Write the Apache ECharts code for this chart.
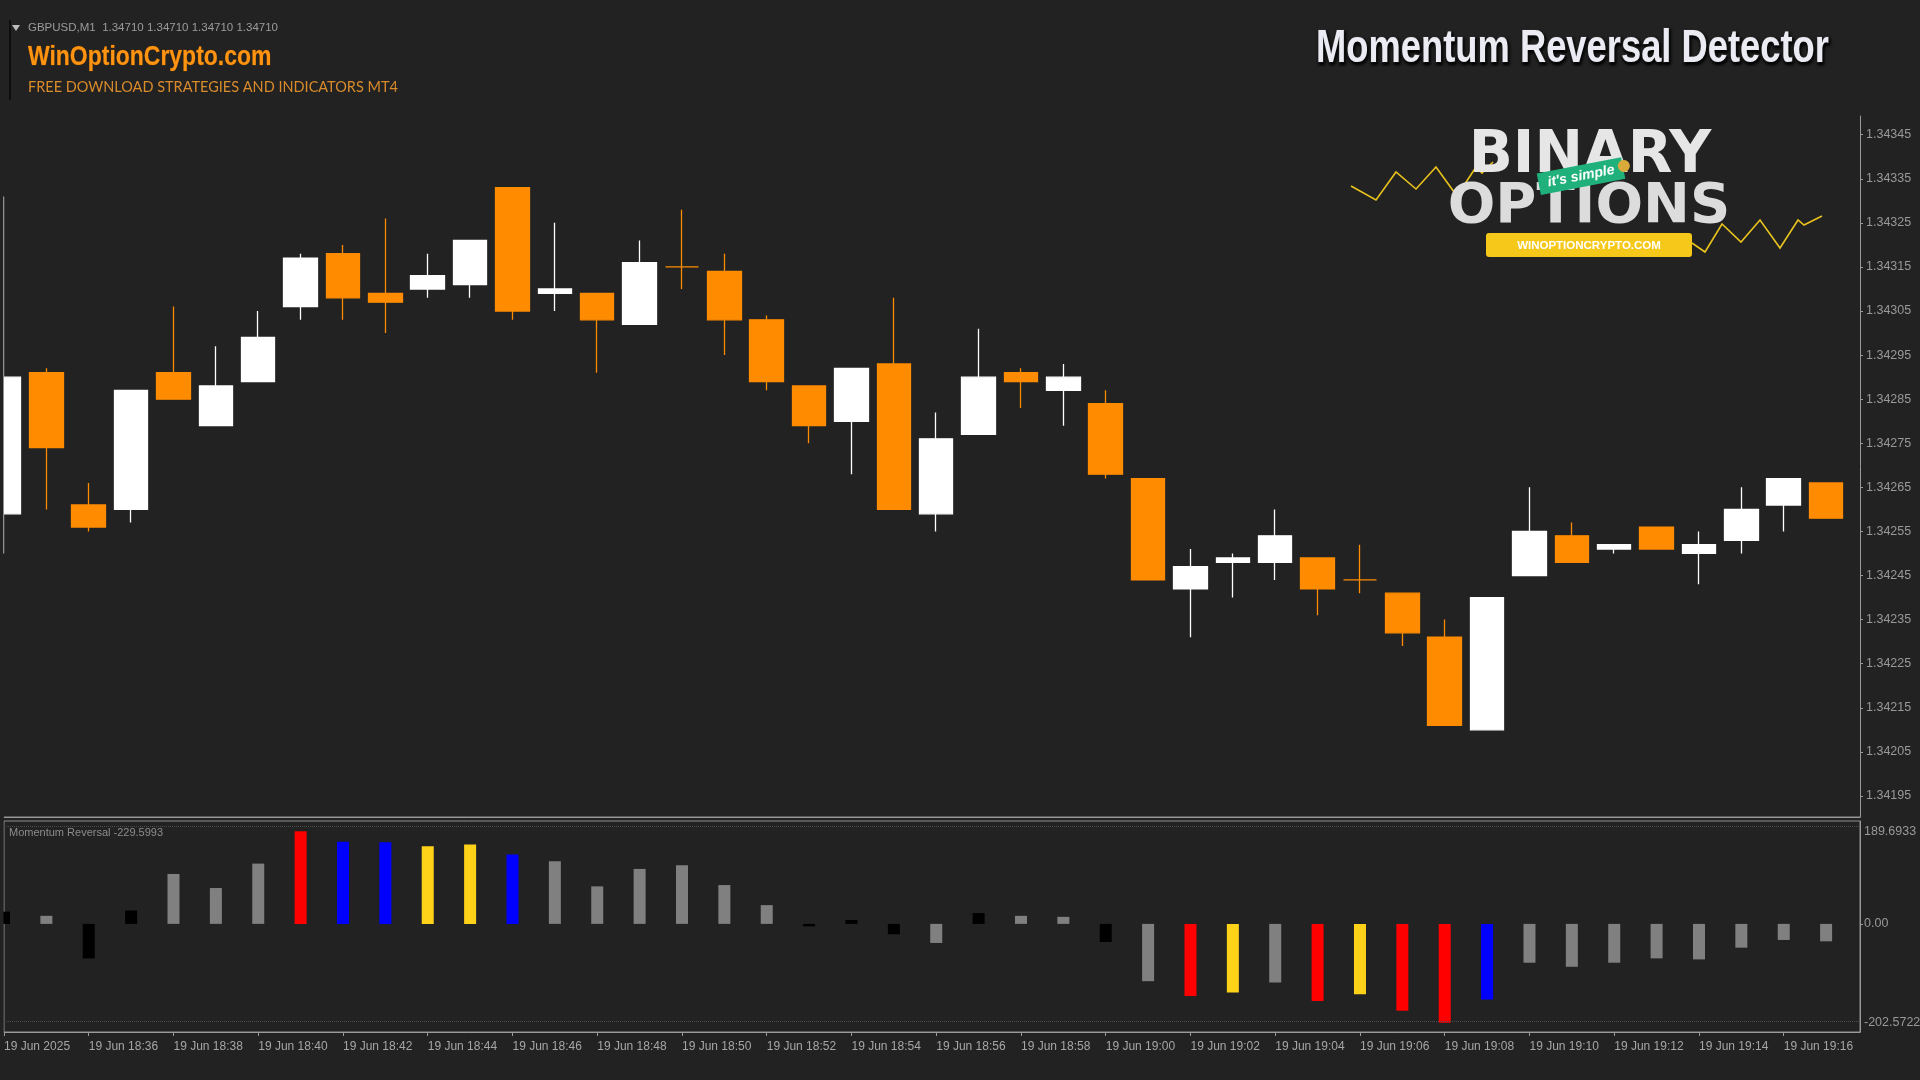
<!DOCTYPE html>
<html><head><meta charset="utf-8">
<script src="https://cdn.jsdelivr.net/npm/echarts@6/dist/echarts.min.js"></script>
<style>html,body{margin:0;padding:0;background:#222222;overflow:hidden}#c{width:1920px;height:1080px}</style>
</head><body><div id="c"></div>
<script>
// ---- data ----
const times = ['18:34','18:35','18:36','18:37','18:38','18:39','18:40','18:41','18:42','18:43','18:44','18:45','18:46','18:47','18:48','18:49','18:50','18:51','18:52','18:53','18:54','18:55','18:56','18:57','18:58','18:59','19:00','19:01','19:02','19:03','19:04','19:05','19:06','19:07','19:08','19:09','19:10','19:11','19:12','19:13','19:14','19:15','19:16','19:17'];
const opens  = [1.34259,1.34291,1.34261,1.34260,1.34291,1.34279,1.34289,1.34306,1.34318,1.34309,1.34310,1.34311,1.34333,1.34309,1.34309,1.34302,1.34315,1.34314,1.34303,1.34288,1.34280,1.34293,1.34259,1.34277,1.34291,1.34287,1.34284,1.34267,1.34242,1.34248,1.34248,1.34249,1.34244,1.34241,1.34231,1.34210,1.34245,1.34254,1.34251,1.34256,1.34250,1.34253,1.34261,1.34266];
const closes = [1.34290,1.34274,1.34256,1.34287,1.34285,1.34288,1.34299,1.34317,1.34308,1.34307,1.34313,1.34321,1.34305,1.34310,1.34303,1.34316,1.34315,1.34303,1.34289,1.34279,1.34292,1.34260,1.34276,1.34290,1.34289,1.34290,1.34268,1.34244,1.34247,1.34249,1.34254,1.34242,1.34244,1.34232,1.34211,1.34240,1.34255,1.34248,1.34252,1.34251,1.34252,1.34260,1.34267,1.34258];
const lows   = [1.34250,1.34260,1.34255,1.34257,1.34285,1.34279,1.34289,1.34303,1.34303,1.34300,1.34308,1.34308,1.34303,1.34305,1.34291,1.34302,1.34310,1.34295,1.34287,1.34275,1.34268,1.34260,1.34255,1.34277,1.34283,1.34279,1.34267,1.34244,1.34231,1.34240,1.34244,1.34236,1.34241,1.34229,1.34211,1.34210,1.34245,1.34248,1.34250,1.34251,1.34243,1.34250,1.34255,1.34258];
const highs  = [1.34331,1.34292,1.34266,1.34287,1.34306,1.34297,1.34305,1.34318,1.34320,1.34326,1.34318,1.34321,1.34333,1.34325,1.34309,1.34321,1.34328,1.34318,1.34304,1.34288,1.34292,1.34308,1.34282,1.34301,1.34292,1.34293,1.34287,1.34267,1.34251,1.34250,1.34260,1.34249,1.34252,1.34241,1.34235,1.34240,1.34265,1.34257,1.34252,1.34256,1.34255,1.34265,1.34267,1.34266];
const momentum = [25,16.5,-70.6,27.4,102.2,73.4,123.4,189.6933,168,167.3,159,162.5,142,128.2,76.8,112.5,120,79.5,38.4,-5,8,-21.3,-39,22,16.5,14.4,-37,-117.3,-147.4,-140.6,-120,-157.7,-144,-177.6,-202.5722,-155,-79.5,-87.8,-79.5,-70.6,-72.7,-48.7,-32.9,-35.7];
const momentumClass = ['black','gray','black','black','gray','gray','gray','red','blue','blue','yellow','yellow','blue','gray','gray','gray','gray','gray','gray','black','black','black','gray','black','gray','gray','black','gray','red','yellow','gray','red','yellow','red','red','blue','gray','gray','gray','gray','gray','gray','gray','gray'];
const xTickIndex = [0,2,4,6,8,10,12,14,16,18,20,22,24,26,28,30,32,34,36,38,40,42];
const xTickLabels = ['19 Jun 2025','19 Jun 18:36','19 Jun 18:38','19 Jun 18:40','19 Jun 18:42','19 Jun 18:44','19 Jun 18:46','19 Jun 18:48','19 Jun 18:50','19 Jun 18:52','19 Jun 18:54','19 Jun 18:56','19 Jun 18:58','19 Jun 19:00','19 Jun 19:02','19 Jun 19:04','19 Jun 19:06','19 Jun 19:08','19 Jun 19:10','19 Jun 19:12','19 Jun 19:14','19 Jun 19:16'];
const priceTicks = [1.34195,1.34205,1.34215,1.34225,1.34235,1.34245,1.34255,1.34265,1.34275,1.34285,1.34295,1.34305,1.34315,1.34325,1.34335,1.34345];
const momentumTicks = [-202.5722,0,189.6933];
const momentumLevels = [200,-200];

// ---- styles ----
const classColor = {black:'#000000', gray:'#808080', red:'#ff0000', blue:'#0000ff', yellow:'#ffd21a'};
const axisCol = '#9a9a9a', labelCol = '#999999';
const candleData = times.map((t,i)=>[i, opens[i], closes[i], lows[i], highs[i]]);
const momData = momentum.map((v,i)=>[i, v]);

const chart = echarts.init(document.getElementById('c'), null, {renderer:'canvas'});
const gold = '#e9c21d';
chart.setOption({
  animation:false,
  backgroundColor:'#222222',
  grid:[
    {left:4, top:116, width:1856, height:701, show:false, containLabel:false, outerBoundsMode:'none'},
    {left:4, top:821, width:1856, height:211, show:true, borderColor:'#8e8e8e', borderWidth:1, backgroundColor:'transparent', containLabel:false, outerBoundsMode:'none'}
  ],
  xAxis:[
    {type:'value', gridIndex:0, min:0, max:43.8, axisLine:{show:true, onZero:false, lineStyle:{color:axisCol}}, axisTick:{show:false}, axisLabel:{show:false}, splitLine:{show:false}},
    {type:'value', gridIndex:1, min:0, max:43.8, axisLine:{show:true, onZero:false, lineStyle:{color:axisCol}},
      axisTick:{show:true, length:4, customValues:xTickIndex, lineStyle:{color:axisCol}},
      axisLabel:{show:true, customValues:xTickIndex, align:'left', margin:9, color:'#a6a6a6', fontFamily:'Liberation Sans', fontSize:12,
        formatter:v=>{const k=xTickIndex.indexOf(Math.round(v)); return k>=0?xTickLabels[k]:'';}},
      splitLine:{show:false}}
  ],
  yAxis:[
    {type:'value', gridIndex:0, position:'right', min:1.3419022, max:1.3434924, scale:true,
      axisLine:{show:true, onZero:false, lineStyle:{color:axisCol}},
      axisTick:{show:true, length:3, customValues:priceTicks, lineStyle:{color:axisCol}},
      axisLabel:{show:true, customValues:priceTicks, margin:6, color:labelCol, fontFamily:'Liberation Sans', fontSize:12.5, formatter:v=>v.toFixed(5)},
      splitLine:{show:false}},
    {type:'value', gridIndex:1, position:'right', min:-221.3, max:210.6,
      axisLine:{show:true, onZero:false, lineStyle:{color:axisCol}},
      axisTick:{show:true, length:3, customValues:[0], lineStyle:{color:axisCol}},
      axisLabel:{show:true, customValues:momentumTicks, margin:4, color:labelCol, fontFamily:'Liberation Sans', fontSize:12.5,
        formatter:v=>v===0?'0.00':v.toFixed(4)},
      splitLine:{show:false}}
  ],
  series:[
    {type:'candlestick', xAxisIndex:0, yAxisIndex:0, data:candleData, encode:{x:0, y:[1,2,3,4]}, barWidth:34, clip:true,
      itemStyle:{color:'#ffffff', color0:'#ff8c00', borderColor:'#ffffff', borderColor0:'#ff8c00', borderColorDoji:'#ff8c00', borderWidth:1.3}},
    {type:'bar', xAxisIndex:1, yAxisIndex:1, data:momData, barWidth:12, clip:true,
      itemStyle:{color:p=>classColor[momentumClass[p.dataIndex]]},
      markLine:{silent:true, symbol:'none', label:{show:false}, lineStyle:{color:'#4c4c4c', type:'dotted', width:1},
        data:momentumLevels.map(v=>({yAxis:v}))}}
  ],
  graphic:[
    {type:'rect', z:100, shape:{x:0, y:110, width:3.5, height:925}, style:{fill:'#222222'}},
    {type:'polygon', shape:{points:[[12,25],[20,25],[16,31]]}, style:{fill:'#bcbcbc'}},
    {type:'text', x:28, y:28, style:{text:'GBPUSD,M1  1.34710 1.34710 1.34710 1.34710', font:'11.5px "Liberation Sans"', fill:'#9c9c9c', textVerticalAlign:'middle'}},
    {type:'line', shape:{x1:10, y1:20, x2:10, y2:100}, style:{stroke:'#0e0e0e', lineWidth:2}},
    {type:'text', x:28, y:57, scaleX:0.82, style:{text:'WinOptionCrypto.com', font:'bold 28px "Liberation Sans"', fill:'#ff9412', textVerticalAlign:'middle', stroke:'#7a4300', lineWidth:0.6}},
    {type:'text', x:28, y:87, style:{text:'FREE DOWNLOAD STRATEGIES AND INDICATORS MT4', font:'14.5px "Lato"', fill:'#d98b2c', textVerticalAlign:'middle'}},
    {type:'text', x:1316, y:49, scaleX:0.79, style:{text:'Momentum Reversal Detector', font:'bold 46px "Liberation Sans"', fill:'#ebebf3', stroke:'#2a2a2a', lineWidth:2, textVerticalAlign:'middle', textShadowColor:'#000', textShadowBlur:3, textShadowOffsetX:1, textShadowOffsetY:2}},
    // logo
    {type:'polyline', shape:{points:[[1351,186],[1376,200],[1396,172],[1416,189],[1436,167],[1457,196],[1476,167],[1482,173],[1493,162]]}, style:{stroke:gold, lineWidth:1.6, fill:null}},
    {type:'polyline', shape:{points:[[1692,243],[1705,252],[1722,224],[1741,242],[1760,220],[1780,248],[1798,220],[1804,225],[1822,216]]}, style:{stroke:gold, lineWidth:1.6, fill:null}},
    {type:'text', x:1590, y:157, style:{text:'BINARY', font:'bold 58px "DejaVu Sans"', textAlign:'center', textVerticalAlign:'middle', fill:'#e6e6e6'}},
    {type:'text', x:1589, y:207, style:{text:'OPTIONS', font:'bold 56px "DejaVu Sans"', textAlign:'center', textVerticalAlign:'middle', fill:'#dcdcdc'}},
    {type:'group', x:1582, y:176, rotation:0.19, children:[
      {type:'rect', shape:{x:-44, y:-11, width:86, height:22}, style:{fill:'#1fb07c'}},
      {type:'circle', shape:{cx:43, cy:-2, r:6}, style:{fill:'#d9a93a'}},
      {type:'text', x:-1, y:0, style:{text:"it's simple", font:'italic bold 14px "Liberation Sans"', fill:'#ffffff', textAlign:'center', textVerticalAlign:'middle'}}
    ]},
    {type:'rect', shape:{x:1486, y:233, width:206, height:24, r:3}, style:{fill:'#f6c81a'}},
    {type:'text', x:1589, y:245.5, style:{text:'WINOPTIONCRYPTO.COM', font:'bold 11.5px "Liberation Sans"', fill:'#ffffff', textAlign:'center', textVerticalAlign:'middle'}},
    // indicator title & separator
    {type:'line', shape:{x1:4, y1:817, x2:1860, y2:817}, style:{stroke:'#8e8e8e', lineWidth:1}},
    {type:'text', x:9, y:833, style:{text:'Momentum Reversal -229.5993', font:'11px "Liberation Sans"', fill:'#8c8c8c', textVerticalAlign:'middle'}}
  ]
});
</script></body></html>
